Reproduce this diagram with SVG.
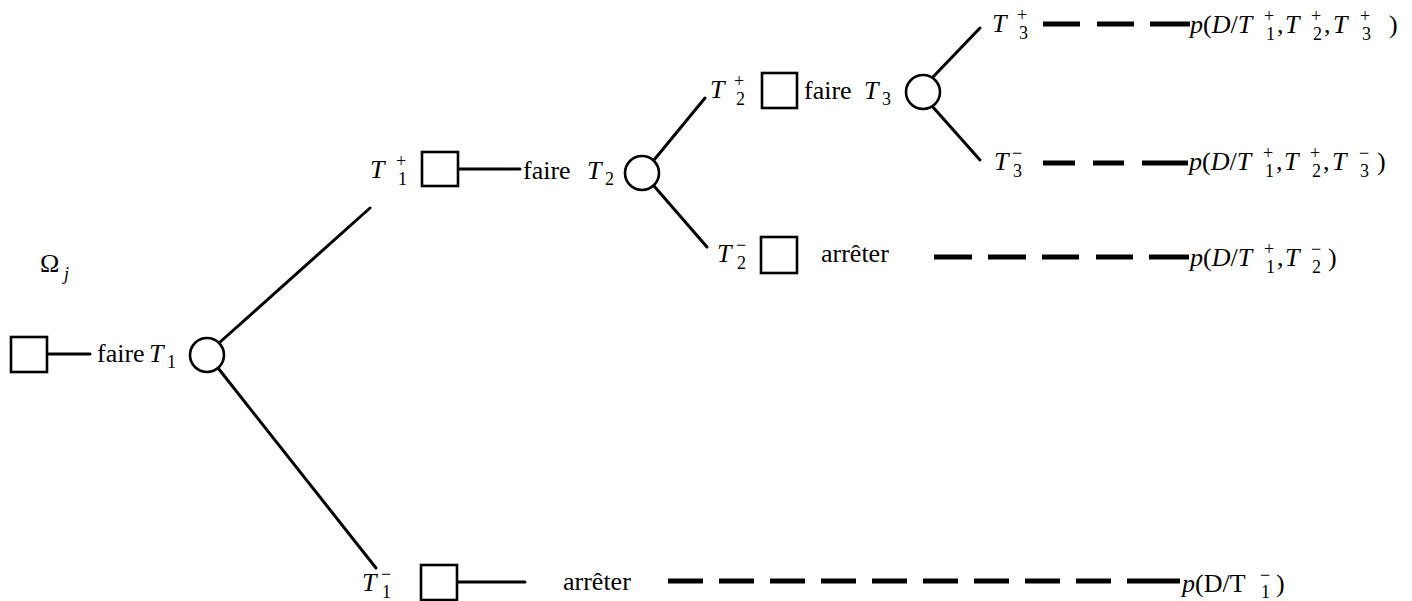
<svg xmlns="http://www.w3.org/2000/svg" width="1412" height="601" viewBox="0 0 1412 601">
<style>
.t{font-family:"Liberation Serif","Times New Roman",serif;font-size:26px;fill:#000}
.i{font-style:italic}
.n{font-style:normal}
.s{font-size:18px}
.box{fill:#fff;stroke:#000;stroke-width:2.6}
.ch{fill:#fff;stroke:#000;stroke-width:2.6}
.ln{stroke:#000;stroke-width:3;fill:none;stroke-linecap:round}
.ds{stroke:#000;stroke-width:5;fill:none}
</style>
<rect width="1412" height="601" fill="#fff"/>
<g id="connectors">
<line class="ln" x1="47" y1="354" x2="90" y2="354"/>
<line class="ln" x1="219" y1="343" x2="370" y2="208"/>
<line class="ln" x1="218" y1="368" x2="376" y2="568"/>
<line class="ln" x1="458" y1="169" x2="520" y2="169"/>
<line class="ln" x1="654" y1="160" x2="705" y2="98"/>
<line class="ln" x1="654" y1="186" x2="707" y2="247"/>
<line class="ln" x1="932" y1="78" x2="980" y2="28"/>
<line class="ln" x1="932" y1="106" x2="980" y2="160"/>
<line class="ln" x1="457" y1="582" x2="525" y2="582"/>
<path class="ds" d="M1043 24h37M1097 24h37M1150 24h40"/>
<path class="ds" d="M1043 163h32M1093 163h31M1142 163h46"/>
<path class="ds" d="M934 257h38M988 257h38M1042 257h37M1096 257h37M1149 257h40"/>
<path class="ds" d="M668 581h35M719 581h35M770 581h35M821 581h35M872 581h35M923 581h35M974 581h35M1025 581h35M1076 581h35M1127 581h53"/>
</g>
<g id="omega"><text class="t" x="40" y="272">Ω<tspan class="s i" x="64" y="280">j</tspan></text></g>
<g id="root">
<rect class="box" x="11" y="337" width="36" height="35"/>
</g>
<g id="choice1">
<text class="t" x="97" y="362">faire <tspan class="i" x="149">T</tspan><tspan class="s" x="167" y="368">1</tspan></text>
<circle class="ch" cx="207" cy="355" r="17"/>
</g>
<g id="T1plus">
<text class="t i" x="370" y="178">T<tspan class="s n" x="396" y="167">+</tspan><tspan class="s n" x="398" y="185">1</tspan></text>
<rect class="box" x="422" y="152" width="36" height="34"/>
</g>
<g id="choice2">
<text class="t" x="523" y="179">faire <tspan class="i" x="587">T</tspan><tspan class="s" x="605" y="185">2</tspan></text>
<circle class="ch" cx="642" cy="173" r="17"/>
</g>
<g id="T2plus">
<text class="t i" x="710" y="98">T<tspan class="s n" x="734" y="87">+</tspan><tspan class="s n" x="736" y="105">2</tspan></text>
<rect class="box" x="762" y="73" width="35" height="35"/>
</g>
<g id="choice3">
<text class="t" x="804" y="99">faire <tspan class="i" x="864">T</tspan><tspan class="s" x="882" y="105">3</tspan></text>
<circle class="ch" cx="923" cy="92" r="17"/>
</g>
<g id="T3plus">
<text class="t i" x="992" y="32">T<tspan class="s n" x="1017" y="21">+</tspan><tspan class="s n" x="1019" y="39">3</tspan></text>
</g>
<g id="outcome1">
<text class="t" x="1190" y="33"><tspan class="i">p</tspan>(<tspan class="i">D</tspan>/<tspan class="i">T</tspan><tspan class="s" x="1264" y="22">+</tspan><tspan class="s" x="1266" y="40">1</tspan><tspan x="1277" y="33">,</tspan><tspan class="i" x="1285">T</tspan><tspan class="s" x="1311" y="22">+</tspan><tspan class="s" x="1313" y="40">2</tspan><tspan x="1324" y="33">,</tspan><tspan class="i" x="1333">T</tspan><tspan class="s" x="1360" y="22">+</tspan><tspan class="s" x="1362" y="40">3</tspan><tspan x="1389" y="33">)</tspan></text>
</g>
<g id="T3minus">
<text class="t i" x="994" y="170">T<tspan class="s n" x="1012" y="159">−</tspan><tspan class="s n" x="1013" y="177">3</tspan></text>
</g>
<g id="outcome2">
<text class="t" x="1189" y="170"><tspan class="i">p</tspan>(<tspan class="i">D</tspan>/<tspan class="i">T</tspan><tspan class="s" x="1263" y="159">+</tspan><tspan class="s" x="1265" y="177">1</tspan><tspan x="1276" y="170">,</tspan><tspan class="i" x="1284">T</tspan><tspan class="s" x="1310" y="159">+</tspan><tspan class="s" x="1312" y="177">2</tspan><tspan x="1323" y="170">,</tspan><tspan class="i" x="1332">T</tspan><tspan class="s" x="1359" y="159">−</tspan><tspan class="s" x="1360" y="177">3</tspan><tspan x="1377" y="170">)</tspan></text>
</g>
<g id="T2minus">
<text class="t i" x="717" y="262">T<tspan class="s n" x="736" y="251">−</tspan><tspan class="s n" x="737" y="269">2</tspan></text>
<rect class="box" x="761" y="237" width="36" height="36"/>
<text class="t" x="821" y="262">arrêter</text>
</g>
<g id="outcome3">
<text class="t" x="1190" y="266"><tspan class="i">p</tspan>(<tspan class="i">D</tspan>/<tspan class="i">T</tspan><tspan class="s" x="1264" y="255">+</tspan><tspan class="s" x="1266" y="273">1</tspan><tspan x="1277" y="266">,</tspan><tspan class="i" x="1285">T</tspan><tspan class="s" x="1311" y="255">−</tspan><tspan class="s" x="1312" y="273">2</tspan><tspan x="1328" y="266">)</tspan></text>
</g>
<g id="T1minus">
<text class="t i" x="362" y="591">T<tspan class="s n" x="381" y="580">−</tspan><tspan class="s n" x="382" y="598">1</tspan></text>
<rect class="box" x="421" y="565" width="36" height="35"/>
<text class="t" x="563" y="590">arrêter</text>
</g>
<g id="outcome4">
<text class="t" x="1182" y="592"><tspan class="i">p</tspan>(D/T<tspan class="s" x="1260" y="581">−</tspan><tspan class="s" x="1261" y="598">1</tspan><tspan x="1276" y="592">)</tspan></text>
</g>
</svg>
